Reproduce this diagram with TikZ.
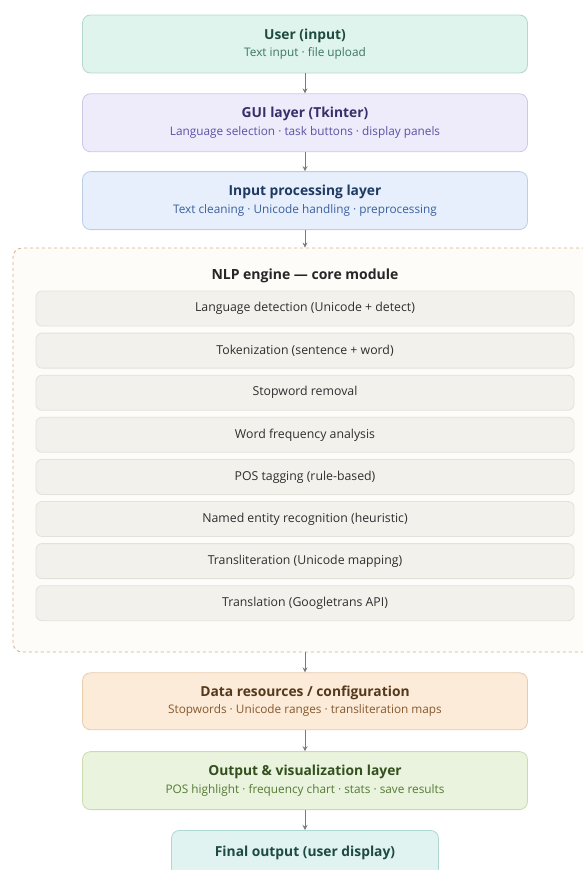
\documentclass[tikz,border=0pt]{standalone}
\usepackage{fontspec}
\setmainfont{Open Sans}
\usetikzlibrary{positioning, arrows.meta}

\definecolor{userfill}{HTML}{DFF4EC}
\definecolor{userline}{HTML}{B4D9CA}
\definecolor{usertext}{HTML}{1F4A40}
\definecolor{usersub}{HTML}{3C7565}
\definecolor{guifill}{HTML}{EEEBFB}
\definecolor{guiline}{HTML}{CEC8E8}
\definecolor{guitext}{HTML}{36306A}
\definecolor{guisub}{HTML}{5A52A5}
\definecolor{procfill}{HTML}{E6EFFB}
\definecolor{procline}{HTML}{BCCDE6}
\definecolor{proctext}{HTML}{1E3A62}
\definecolor{procsub}{HTML}{3A609E}
\definecolor{datafill}{HTML}{FCEBD9}
\definecolor{dataline}{HTML}{E8CBAB}
\definecolor{datatext}{HTML}{55391C}
\definecolor{datasub}{HTML}{86592E}
\definecolor{outfill}{HTML}{EAF3DD}
\definecolor{outline}{HTML}{C9DCAD}
\definecolor{outtext}{HTML}{33501E}
\definecolor{outsub}{HTML}{557A36}
\definecolor{finalfill}{HTML}{E0F3F0}
\definecolor{finalline}{HTML}{AED7D0}
\definecolor{finaltext}{HTML}{1D4A44}
\definecolor{corefill}{HTML}{FDFCF8}
\definecolor{coreline}{HTML}{D6B089}
\definecolor{taskfill}{HTML}{F2F1EC}
\definecolor{taskline}{HTML}{E3E1D9}
\definecolor{tasktext}{HTML}{2E2E2E}
\definecolor{flowgray}{HTML}{7A7A7A}

\newcommand{\layertitle}[2]{{\fontsize{13.8}{16}\selectfont\bfseries\color{#1}#2}}
\newcommand{\layernote}[2]{{\fontsize{11.8}{14}\selectfont\color{#1}#2}}

\begin{document}
\begin{tikzpicture}[x=1pt, y=-1pt]
    \tikzstyle{layer} = [draw, rounded corners=8pt, minimum width=445pt, minimum height=58pt, align=center, line width=0.8pt];
    \tikzstyle{task} = [draw=taskline, fill=taskfill, rounded corners=6pt, minimum width=538pt, minimum height=35pt, line width=0.8pt, text=tasktext, font=\fontsize{12.3}{14}\selectfont];
    \tikzstyle{flow} = [draw=flowgray, line width=0.9pt, -{Stealth[length=5pt, width=5pt]}];

    \useasboundingbox (0,0) rectangle (582,870);

    \node[layer, fill=userfill, draw=userline] (user) at (305, 44) {\layertitle{usertext}{User (input)}\\[4pt] \layernote{usersub}{Text input · file upload}};
    \node[layer, fill=guifill, draw=guiline, below = 20pt of user] (gui) {\layertitle{guitext}{GUI layer (Tkinter)}\\[4pt] \layernote{guisub}{Language selection · task buttons · display panels}};
    \node[layer, fill=procfill, draw=procline, below = 19pt of gui] (proc) {\layertitle{proctext}{Input processing layer}\\[4pt] \layernote{procsub}{Text cleaning · Unicode handling · preprocessing}};

    % core module
    \node[draw=coreline, fill=corefill, dashed, line width=0.8pt, rounded corners=9pt, minimum width=587pt, minimum height=404pt] (nlp) at (306.5, 450) {};
    \node[font=\fontsize{14}{16}\selectfont\bfseries, text=black!85] (nlptitle) at (305, 276) {NLP engine — core module};

    \node[task] (detect) at (305, 308.5) {Language detection (Unicode + detect)};
    \node[task, below = 6.3pt of detect] (token) {Tokenization (sentence + word)};
    \node[task, below = 6.3pt of token] (stop) {Stopword removal};
    \node[task, below = 6.3pt of stop] (freq) {Word frequency analysis};
    \node[task, below = 6.3pt of freq] (pos) {POS tagging (rule-based)};
    \node[task, below = 6.3pt of pos] (ner) {Named entity recognition (heuristic)};
    \node[task, below = 6.3pt of ner] (translit) {Transliteration (Unicode mapping)};
    \node[task, below = 6.3pt of translit] (transl) {Translation (Googletrans API)};

    \coordinate (nlpin) at (proc |- nlp.north);
    \coordinate (nlpout) at (proc |- nlp.south);

    \node[layer, fill=datafill, draw=dataline, minimum height=57pt, below = 20pt of nlpout] (data) {\layertitle{datatext}{Data resources / configuration}\\[4pt] \layernote{datasub}{Stopwords · Unicode ranges · transliteration maps}};
    \node[layer, fill=outfill, draw=outline, minimum height=58pt, below = 21pt of data] (output) {\layertitle{outtext}{Output \& visualization layer}\\[4pt] \layernote{outsub}{POS highlight · frequency chart · stats · save results}};
    \node[layer, fill=finalfill, draw=finalline, minimum width=267pt, minimum height=46pt, below = 20pt of output] (final) {\layertitle{finaltext}{Final output (user display)}};

    \draw[flow] (user) -- (gui);
    \draw[flow] (gui) -- (proc);
    \draw[flow] (proc) -- (nlpin);
    \draw[flow] (nlpout) -- (data);
    \draw[flow] (data) -- (output);
    \draw[flow] (output) -- (final);
\end{tikzpicture}
\end{document}
